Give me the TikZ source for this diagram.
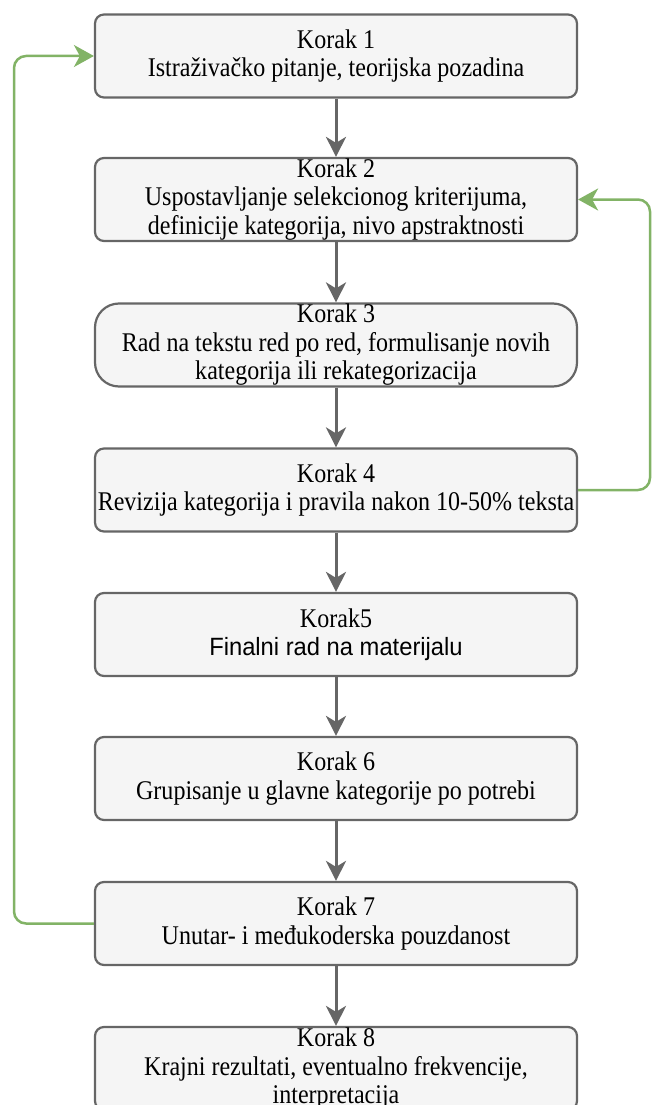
\documentclass[tikz,border=0pt]{standalone}
\usepackage{fontspec}
\setmainfont{Liberation Serif}[FakeStretch=0.89]
\newfontfamily\boxsans{Liberation Sans}[FakeStretch=0.95]
\usetikzlibrary{arrows.meta}

\definecolor{boxline}{HTML}{666666}
\definecolor{boxfill}{HTML}{F5F5F5}
\definecolor{loopgreen}{HTML}{82B366}

\tikzset{
  stepbox/.style={draw=boxline, fill=boxfill, line width=2.2pt, rounded corners=9pt,
    minimum width=482pt, minimum height=83pt, inner sep=0pt, align=center,
    font=\fontsize{27}{28.5}\selectfont},
  flow/.style={draw=boxline, line width=3pt,
    -{Stealth[length=20pt, width=20pt, inset=6pt]}},
  loopback/.style={draw=loopgreen, line width=2.5pt, rounded corners=12pt,
    -{Stealth[length=20pt, width=22pt, inset=6pt]}}
}

\begin{document}
\begin{tikzpicture}[x=1pt, y=-1pt]
  \useasboundingbox (0,0) rectangle (653,1105);
  \clip (0,0) rectangle (653,1105);

  % the eight steps
  \node[stepbox] (k1) at (336,56)     {Korak 1\\Istraživačko pitanje, teorijska pozadina};
  \node[stepbox] (k2) at (336,199.5)  {Korak 2\\Uspostavljanje selekcionog kriterijuma,\\definicije kategorija, nivo apstraktnosti};
  \node[stepbox, rounded corners=24pt] (k3) at (336,345)
        {Korak 3\\Rad na tekstu red po red, formulisanje novih\\kategorija ili rekategorizacija};
  \node[stepbox] (k4) at (336,490)    {Korak 4\\Revizija kategorija i pravila nakon 10-50\% teksta};
  \node[stepbox] (k5) at (336,634.5)  {Korak5\\{\boxsans\fontsize{25}{28.5}\selectfont Finalni rad na materijalu}};
  \node[stepbox] (k6) at (336,778.5)  {Korak 6\\Grupisanje u glavne kategorije po potrebi};
  \node[stepbox] (k7) at (336,923.5)  {Korak 7\\Unutar- i međukoderska pouzdanost};
  \node[stepbox] (k8) at (336,1068.5) {Korak 8\\Krajni rezultati, eventualno frekvencije,\\interpretacija};

  % main sequence
  \draw[flow] (k1) -- (k2);
  \draw[flow] (k2) -- (k3);
  \draw[flow] (k3) -- (k4);
  \draw[flow] (k4) -- (k5);
  \draw[flow] (k5) -- (k6);
  \draw[flow] (k6) -- (k7);
  \draw[flow] (k7) -- (k8);

  % feedback loops
  \coordinate (leftrail) at (14,0);
  \coordinate (rightrail) at (650,0);
  \draw[loopback] (k7.west) -- (k7.west -| leftrail) -- (k1.west -| leftrail) -- (k1.west);
  \draw[loopback] (k4.east) -- (k4.east -| rightrail) -- (k2.east -| rightrail) -- (k2.east);
\end{tikzpicture}
\end{document}
